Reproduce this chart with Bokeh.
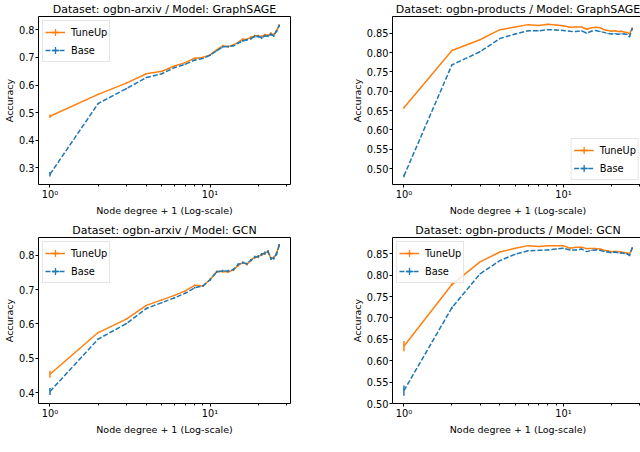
from bokeh.plotting import figure
from bokeh.layouts import column, row
from bokeh.models import (ColumnDataSource, FixedTicker, PrintfTickFormatter,
                          Legend, LegendItem, Range1d)
from bokeh.embed import file_html
from bokeh.resources import INLINE

FONT = "DejaVu Sans"
ORANGE = "#ff7f0e"
BLUE = "#1f77b4"

degree = [1, 2, 3, 4, 5, 6, 7, 8, 9, 10, 11, 12, 13, 14, 15, 16, 17, 18, 19,
          20, 21, 22, 23, 24, 25, 26, 27]
x_major_ticks = [1, 10]
x_minor_ticks = [2, 3, 4, 5, 6, 7, 8, 9, 20, 30]
x_tick_labels = {1: "10\u2070", 10: "10\u00b9"}

# ogbn-arxiv / GraphSAGE
arxiv_sage_tuneup = [0.487, 0.566, 0.607, 0.641, 0.650, 0.669, 0.681, 0.697, 0.700,
                     0.709, 0.727, 0.742, 0.739, 0.745, 0.754, 0.766, 0.765, 0.773,
                     0.778, 0.778, 0.775, 0.782, 0.780, 0.787, 0.782, 0.796, 0.815]
arxiv_sage_tuneup_err = [0.006, 0.002, 0.002, 0.002, 0.002, 0.002, 0.002, 0.002, 0.002,
                         0.003, 0.003, 0.003, 0.003, 0.003, 0.003, 0.003, 0.003, 0.003,
                         0.004, 0.004, 0.004, 0.004, 0.004, 0.004, 0.004, 0.004, 0.004]
arxiv_sage_base = [0.277, 0.533, 0.587, 0.627, 0.641, 0.663, 0.675, 0.690, 0.696,
                   0.708, 0.724, 0.738, 0.739, 0.742, 0.752, 0.760, 0.764, 0.768,
                   0.776, 0.776, 0.771, 0.778, 0.777, 0.783, 0.778, 0.795, 0.815]
arxiv_sage_base_err = [0.008, 0.003, 0.002, 0.002, 0.002, 0.002, 0.002, 0.002, 0.002,
                       0.003, 0.003, 0.003, 0.003, 0.003, 0.003, 0.003, 0.003, 0.003,
                       0.004, 0.004, 0.004, 0.004, 0.004, 0.004, 0.004, 0.004, 0.004]

# ogbn-products / GraphSAGE
products_sage_tuneup = [0.657, 0.805, 0.833, 0.859, 0.866, 0.872, 0.870, 0.873, 0.871,
                        0.869, 0.865, 0.866, 0.866, 0.860, 0.864, 0.865, 0.864, 0.859,
                        0.857, 0.855, 0.856, 0.854, 0.855, 0.853, 0.852, 0.848, 0.863]
products_sage_tuneup_err = [0.002, 0.001, 0.001, 0.001, 0.001, 0.001, 0.001, 0.001, 0.001,
                            0.001, 0.001, 0.001, 0.001, 0.001, 0.001, 0.001, 0.001, 0.001,
                            0.001, 0.001, 0.001, 0.001, 0.001, 0.001, 0.001, 0.002, 0.002]
products_sage_base = [0.481, 0.768, 0.802, 0.836, 0.848, 0.856, 0.856, 0.859, 0.858,
                      0.857, 0.855, 0.854, 0.856, 0.850, 0.855, 0.857, 0.854, 0.852,
                      0.849, 0.848, 0.849, 0.847, 0.848, 0.848, 0.847, 0.841, 0.861]
products_sage_base_err = [0.003, 0.001, 0.001, 0.001, 0.001, 0.001, 0.001, 0.001, 0.001,
                          0.001, 0.001, 0.001, 0.001, 0.001, 0.001, 0.001, 0.001, 0.001,
                          0.001, 0.001, 0.001, 0.001, 0.001, 0.001, 0.001, 0.002, 0.002]

# ogbn-arxiv / GCN
arxiv_gcn_tuneup = [0.454, 0.575, 0.614, 0.654, 0.670, 0.683, 0.696, 0.712, 0.710,
                    0.729, 0.752, 0.752, 0.751, 0.757, 0.770, 0.778, 0.773, 0.785,
                    0.794, 0.795, 0.802, 0.804, 0.811, 0.790, 0.792, 0.805, 0.828]
arxiv_gcn_tuneup_err = [0.010, 0.002, 0.002, 0.002, 0.002, 0.002, 0.002, 0.002, 0.002,
                        0.003, 0.003, 0.003, 0.003, 0.003, 0.003, 0.003, 0.003, 0.003,
                        0.004, 0.004, 0.004, 0.004, 0.004, 0.004, 0.004, 0.004, 0.004]
arxiv_gcn_base = [0.404, 0.556, 0.601, 0.645, 0.662, 0.676, 0.689, 0.705, 0.710,
                  0.728, 0.751, 0.754, 0.754, 0.758, 0.773, 0.778, 0.775, 0.785,
                  0.794, 0.796, 0.802, 0.806, 0.810, 0.790, 0.791, 0.803, 0.828]
arxiv_gcn_base_err = [0.010, 0.002, 0.002, 0.002, 0.002, 0.002, 0.002, 0.002, 0.002,
                      0.003, 0.003, 0.003, 0.003, 0.003, 0.003, 0.003, 0.003, 0.003,
                      0.004, 0.004, 0.004, 0.004, 0.004, 0.004, 0.004, 0.004, 0.004]

# ogbn-products / GCN
products_gcn_tuneup = [0.634, 0.778, 0.831, 0.854, 0.863, 0.869, 0.867, 0.869, 0.869,
                       0.869, 0.863, 0.865, 0.865, 0.862, 0.862, 0.862, 0.861, 0.858,
                       0.857, 0.855, 0.855, 0.855, 0.854, 0.853, 0.852, 0.850, 0.863]
products_gcn_tuneup_err = [0.012, 0.003, 0.001, 0.001, 0.001, 0.001, 0.001, 0.001, 0.001,
                           0.001, 0.001, 0.001, 0.001, 0.001, 0.001, 0.001, 0.001, 0.001,
                           0.001, 0.001, 0.001, 0.001, 0.001, 0.001, 0.001, 0.002, 0.002]
products_gcn_base = [0.530, 0.724, 0.803, 0.834, 0.849, 0.857, 0.858, 0.859, 0.861,
                     0.863, 0.859, 0.859, 0.861, 0.855, 0.858, 0.859, 0.858, 0.855,
                     0.854, 0.852, 0.854, 0.852, 0.852, 0.851, 0.850, 0.846, 0.863]
products_gcn_base_err = [0.012, 0.003, 0.001, 0.001, 0.001, 0.001, 0.001, 0.001, 0.001,
                         0.001, 0.001, 0.001, 0.001, 0.001, 0.001, 0.001, 0.001, 0.001,
                         0.001, 0.001, 0.001, 0.001, 0.001, 0.001, 0.001, 0.002, 0.002]

y_ticks_arxiv_sage = [0.3, 0.4, 0.5, 0.6, 0.7, 0.8]
y_ticks_arxiv_gcn = [0.4, 0.5, 0.6, 0.7, 0.8]
y_ticks_products = [0.50, 0.55, 0.60, 0.65, 0.70, 0.75, 0.80, 0.85]


def style_axis(ax, label, label_standoff):
    ax.axis_label = label
    ax.axis_label_text_font = FONT
    ax.axis_label_text_font_size = "9.5px"
    ax.axis_label_text_font_style = "normal"
    ax.axis_label_text_color = "black"
    ax.axis_label_standoff = label_standoff
    ax.major_label_text_font = FONT
    ax.major_label_text_font_size = "9.8px"
    ax.major_label_text_color = "black"
    ax.major_label_standoff = 1
    ax.axis_line_color = None
    ax.major_tick_line_color = "black"
    ax.major_tick_out = 3
    ax.major_tick_in = 0
    ax.minor_tick_line_color = "black"
    ax.minor_tick_out = 2
    ax.minor_tick_in = 0


def panel(title, tu, tu_err, base, base_err, yr, yticks, yfmt, legend_loc,
          fw, fh, b_left, b_right, b_bottom):
    p = figure(x_axis_type="log", x_range=Range1d(0.848, 31.8),
               y_range=Range1d(yr[0], yr[1]),
               frame_width=fw, frame_height=fh,
               min_border_left=b_left, min_border_right=b_right,
               min_border_top=13, min_border_bottom=b_bottom,
               output_backend="svg", toolbar_location=None,
               background_fill_color="white", border_fill_color="white")
    p.title.text = title
    p.title.align = "center"
    p.title.text_font = FONT
    p.title.text_font_size = "11px"
    p.title.text_font_style = "normal"
    p.title.text_color = "black"
    p.title.standoff = 1
    p.outline_line_color = "black"
    p.outline_line_width = 1
    p.xgrid.visible = False
    p.ygrid.visible = False

    p.xaxis.ticker = FixedTicker(ticks=x_major_ticks, minor_ticks=x_minor_ticks)
    p.xaxis.major_label_overrides = x_tick_labels
    p.yaxis.ticker = FixedTicker(ticks=yticks)
    p.yaxis.formatter = PrintfTickFormatter(format=yfmt)
    style_axis(p.xaxis[0], "Node degree + 1 (Log-scale)", 2)
    style_axis(p.yaxis[0], "Accuracy", 1)

    items = []
    for name, vals, errs, color, dash in [("TuneUp", tu, tu_err, ORANGE, "solid"),
                                          ("Base", base, base_err, BLUE, "5 2")]:
        src = ColumnDataSource(dict(
            x=degree, y=vals,
            lo=[v - e for v, e in zip(vals, errs)],
            hi=[v + e for v, e in zip(vals, errs)]))
        r_line = p.line("x", "y", source=src, line_color=color, line_width=1.5,
                        line_dash=dash)
        p.segment(x0="x", y0="lo", x1="x", y1="hi", source=src,
                  line_color=color, line_width=1.5)
        r_mark = p.scatter(x=[0.001], y=[-10.0], marker="cross", size=8,
                           line_color=color, line_width=1.3)
        items.append(LegendItem(label=name, renderers=[r_line, r_mark]))

    legend = Legend(items=items, location=legend_loc, margin=4, padding=2,
                    spacing=-5, glyph_width=20, glyph_height=18, label_height=18,
                    label_standoff=6, label_text_font=FONT,
                    label_text_font_size="9.8px", label_text_color="black",
                    border_line_color="#cccccc", border_line_width=1,
                    background_fill_color="white", background_fill_alpha=0.8)
    p.add_layout(legend)
    return p


p1 = panel("Dataset: ogbn-arxiv / Model: GraphSAGE", arxiv_sage_tuneup,
           arxiv_sage_tuneup_err, arxiv_sage_base, arxiv_sage_base_err,
           (0.240, 0.848), y_ticks_arxiv_sage, "%.1f", "top_left",
           252, 168, 31, 58, 37)
p2 = panel("Dataset: ogbn-products / Model: GraphSAGE", products_sage_tuneup,
           products_sage_tuneup_err, products_sage_base, products_sage_base_err,
           (0.459, 0.893), y_ticks_products, "%.2f", "bottom_right",
           251, 168, 37, 2, 37)
p3 = panel("Dataset: ogbn-arxiv / Model: GCN", arxiv_gcn_tuneup,
           arxiv_gcn_tuneup_err, arxiv_gcn_base, arxiv_gcn_base_err,
           (0.369, 0.851), y_ticks_arxiv_gcn, "%.1f", "top_left",
           252, 166, 31, 58, 30)
p4 = panel("Dataset: ogbn-products / Model: GCN", products_gcn_tuneup,
           products_gcn_tuneup_err, products_gcn_base, products_gcn_base_err,
           (0.500, 0.888), y_ticks_products, "%.2f", "top_left",
           251, 166, 37, 2, 30)

layout = column(row(p1, p2), row(p3, p4))
open("out.html", "w").write(file_html(layout, INLINE))
